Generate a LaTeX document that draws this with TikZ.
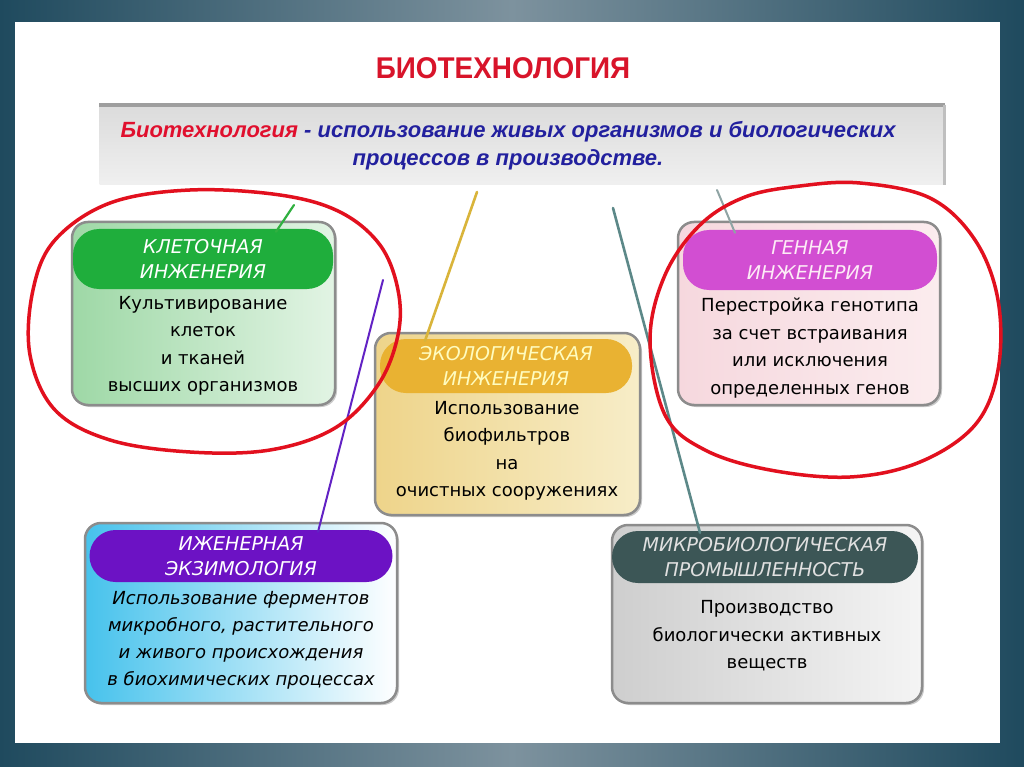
\documentclass[tikz,border=0pt]{standalone}
\usepackage{fontspec}
\setmainfont{DejaVu Sans}
\newfontfamily\libsans{Liberation Sans}
\usetikzlibrary{shadows}
\definecolor{bgdark}{HTML}{1F4A5E}
\definecolor{bglight}{HTML}{7D929E}
\definecolor{titlered}{HTML}{D8142A}
\definecolor{defred}{HTML}{E0102E}
\definecolor{defblue}{HTML}{22209E}
\definecolor{boxgray}{HTML}{8C8C8C}
\definecolor{circred}{HTML}{E2101E}
\definecolor{capgreen}{HTML}{1FAE3C}
\definecolor{bodygreenA}{HTML}{9ED8A6}
\definecolor{bodygreenB}{HTML}{E2F4E4}
\definecolor{capmag}{HTML}{D24ED2}
\definecolor{bodypinkA}{HTML}{F6D8DE}
\definecolor{bodypinkB}{HTML}{FBECEE}
\definecolor{capgold}{HTML}{E9B232}
\definecolor{bodyyelA}{HTML}{EED48A}
\definecolor{bodyyelB}{HTML}{F7EDC8}
\definecolor{cappurp}{HTML}{6C12C4}
\definecolor{bodycyan}{HTML}{46C2EC}
\definecolor{capslate}{HTML}{3C5656}
\definecolor{bodygrayA}{HTML}{CECECE}
\definecolor{bodygrayB}{HTML}{F4F4F4}
\definecolor{linegreen}{HTML}{30B040}
\definecolor{linepurp}{HTML}{6222C4}
\definecolor{linegold}{HTML}{D9B43A}
\definecolor{lineteal}{HTML}{5C8888}
\definecolor{linegray}{HTML}{8FA4A4}
\begin{document}
\begin{tikzpicture}[x=1pt,y=-1pt,
  bodybox/.style={draw=boxgray, line width=2.5pt, rounded corners=16pt, inner sep=0pt,
    drop shadow={shadow xshift=2pt, shadow yshift=-2pt, fill=black!40, opacity=0.5}},
  capbox/.style={rounded corners=26pt, inner sep=0pt, align=center,
    font=\fontsize{19}{25}\selectfont\itshape},
  bodytext/.style={align=center, text=black, inner sep=0pt,
    font=\fontsize{18}{27.5}\selectfont},
  conn/.style={line width=2.2pt, line cap=round},
  redloop/.style={draw=circred, line width=3.5pt, line join=round}
]
\useasboundingbox (0,0) rectangle (1024,767);
% frame
\shade[left color=bgdark, right color=bgdark, middle color=bglight] (0,0) rectangle (1024,767);
\fill[white] (15,22) rectangle (1000,743);

% title
\node[font=\libsans\bfseries\fontsize{30}{32}\selectfont, text=titlered, xscale=0.93] (title) at (503,68) {БИОТЕХНОЛОГИЯ};

% banner
\node[top color=black!14, bottom color=black!6, minimum width=845pt, minimum height=80pt, inner sep=0pt] (banner) at (522,145) {};
\draw[black!38, line width=4pt] (banner.north west) -- (banner.north east);
\draw[black!25, line width=3pt] (banner.north east) -- (banner.south east);
\node[align=center, font=\libsans\bfseries\itshape\fontsize{22}{28}\selectfont, text=defblue] (def) at (508,146)
  {\textcolor{defred}{Биотехнология} - использование живых организмов и биологических\\процессов в производстве.};

% connector start points
\coordinate (gs) at (294,205);
\coordinate (ps) at (383,280);
\coordinate (ys) at (477,192);
\coordinate (ts) at (613,208);
\coordinate (ms) at (717,190);

% ---- Клеточная инженерия (green)
\node[bodybox, left color=bodygreenA, right color=bodygreenB, minimum width=263pt, minimum height=183pt] (b1) at (203.5,313.5) {};
\node[capbox, fill=capgreen, text=white, minimum width=260pt, minimum height=60pt] (c1) at (203,259) {КЛЕТОЧНАЯ\\ИНЖЕНЕРИЯ};
\node[bodytext] (t1) at (203,346) {Культивирование\\клеток\\и тканей\\высших организмов};

% ---- Генная инженерия (magenta)
\node[bodybox, left color=bodypinkA, right color=bodypinkB, minimum width=262pt, minimum height=183pt] (b2) at (809,313.5) {};
\node[capbox, fill=capmag, text=white!92!magenta, minimum width=254pt, minimum height=60pt] (c2) at (810,260) {ГЕННАЯ\\ИНЖЕНЕРИЯ};
\node[bodytext] (t2) at (810,348) {Перестройка генотипа\\за счет встраивания\\или исключения\\определенных генов};

% ---- Экологическая инженерия (gold)
\node[bodybox, left color=bodyyelA, right color=bodyyelB, minimum width=265pt, minimum height=182pt] (b3) at (507.5,424) {};
\node[capbox, fill=capgold, text=yellow!25, minimum width=252pt, minimum height=54pt] (c3) at (506,366) {ЭКОЛОГИЧЕСКАЯ\\ИНЖЕНЕРИЯ};
\node[bodytext] (t3) at (507,451) {Использование\\биофильтров\\на\\очистных сооружениях};

% ---- Иженерная экзимология (purple)
\node[bodybox, left color=bodycyan, middle color=bodycyan!40, right color=white, minimum width=312pt, minimum height=180pt] (b4) at (241,613) {};
\node[capbox, fill=cappurp, text=white, minimum width=303pt, minimum height=52pt] (c4) at (241,556) {ИЖЕНЕРНАЯ\\ЭКЗИМОЛОГИЯ};
\node[bodytext, font=\fontsize{18}{27}\selectfont\itshape] (t4) at (241,640) {Использование ферментов\\микробного, растительного\\и живого происхождения\\в биохимических процессах};

% ---- Микробиологическая промышленность (slate)
\node[bodybox, left color=bodygrayA, right color=bodygrayB, minimum width=310pt, minimum height=178pt] (b5) at (767,614) {};
\node[capbox, fill=capslate, text=black!12, minimum width=306pt, minimum height=52pt] (c5) at (765,557) {МИКРОБИОЛОГИЧЕСКАЯ\\ПРОМЫШЛЕННОСТЬ};
\node[bodytext] (t5) at (767,636) {Производство\\биологически активных\\веществ};

% connectors
\draw[conn, draw=linegreen] (gs) -- ([xshift=73pt,yshift=-3pt]c1.north);
\draw[conn, draw=linepurp, line width=2pt] (ps) -- ([xshift=77pt,yshift=-2pt]c4.north);
\draw[conn, draw=linegold, line width=2.6pt] (ys) -- ([xshift=-81pt,yshift=-2pt]c3.north);
\draw[conn, draw=lineteal, line width=2.6pt] (ts) -- ([xshift=-65pt,yshift=-2pt]c5.north);
\draw[conn, draw=linegray, line width=2pt] (ms) -- ([xshift=-75pt,yshift=-3pt]c2.north);

% red hand-drawn loops
\draw[redloop] plot[smooth cycle, tension=0.6] coordinates {
 (33,290) (55,240) (110,203) (190,190) (280,195) (340,212) (380,245) (398,290)
 (398,335) (378,385) (335,428) (270,450) (190,452) (110,440) (55,410) (30,355)};
\draw[redloop] plot[smooth cycle, tension=0.6] coordinates {
 (650,340) (665,275) (700,225) (745,197) (800,186) (860,183) (930,198) (975,240)
 (998,300) (998,370) (975,425) (920,462) (850,477) (770,470) (705,450) (665,415)};
\end{tikzpicture}
\end{document}
